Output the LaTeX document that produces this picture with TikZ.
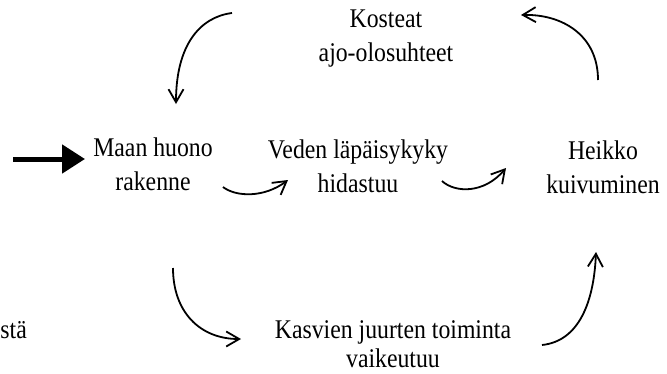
\documentclass[tikz,border=0pt]{standalone}
\usepackage{fontspec}
\setmainfont[FakeStretch=0.88]{Liberation Serif}
\usetikzlibrary{arrows.meta}
\begin{document}
\begin{tikzpicture}[x=1pt,y=-1pt,
  lbl/.style={align=center,font=\fontsize{27}{34}\selectfont,inner sep=0pt,anchor=base},
  cyc/.style={line width=1.8pt,-{Straight Barb[length=13pt,width=15pt]}},
  thick arrow/.style={line width=5pt,-{Triangle[length=23pt,width=28pt]}}
]
\useasboundingbox (0,0) rectangle (667,373);
% labels (anchor base = baseline of the last line)
\node[lbl] (kost) at (386,61) {Kosteat\\ajo-olosuhteet};
\node[lbl] (maan) at (153,190) {Maan huono\\rakenne};
\node[lbl] (veden) at (358,192) {Veden läpäisykyky\\hidastuu};
\node[lbl] (heikko) at (603,193) {Heikko\\kuivuminen};
\node[lbl] (kasv) at (393,367) {Kasvien juurten toiminta\\[-5pt]vaikeutuu};
\node[lbl,anchor=base east] (sta) at (27,338) {stä};
% arrow ends
\coordinate (inA) at (13,159);
\coordinate (inB) at (85,159);
\coordinate (tlA) at (232,13);
\coordinate (tlB) at (176,104);
\coordinate (trA) at (598,80);
\coordinate (trB) at (521,15);
\coordinate (m1A) at (223,187);
\coordinate (m1B) at (288,180);
\coordinate (m2A) at (442,181);
\coordinate (m2B) at (506,168);
\coordinate (blA) at (173,268);
\coordinate (blB) at (241,339);
\coordinate (brA) at (542,345);
\coordinate (brB) at (596,252);
% connectors
\draw[thick arrow] (inA) -- (inB);
\draw[cyc] (tlA) .. controls (200,17) and (176,45) .. (tlB);
\draw[cyc] (trA) .. controls (598,35) and (562,14) .. (trB);
\draw[cyc] (m1A) .. controls (236,197) and (264,198) .. (m1B);
\draw[cyc] (m2A) .. controls (455,193) and (484,194) .. (m2B);
\draw[cyc] (blA) .. controls (173,312) and (200,339) .. (blB);
\draw[cyc] (brA) .. controls (580,341) and (594,300) .. (brB);
\end{tikzpicture}
\end{document}
